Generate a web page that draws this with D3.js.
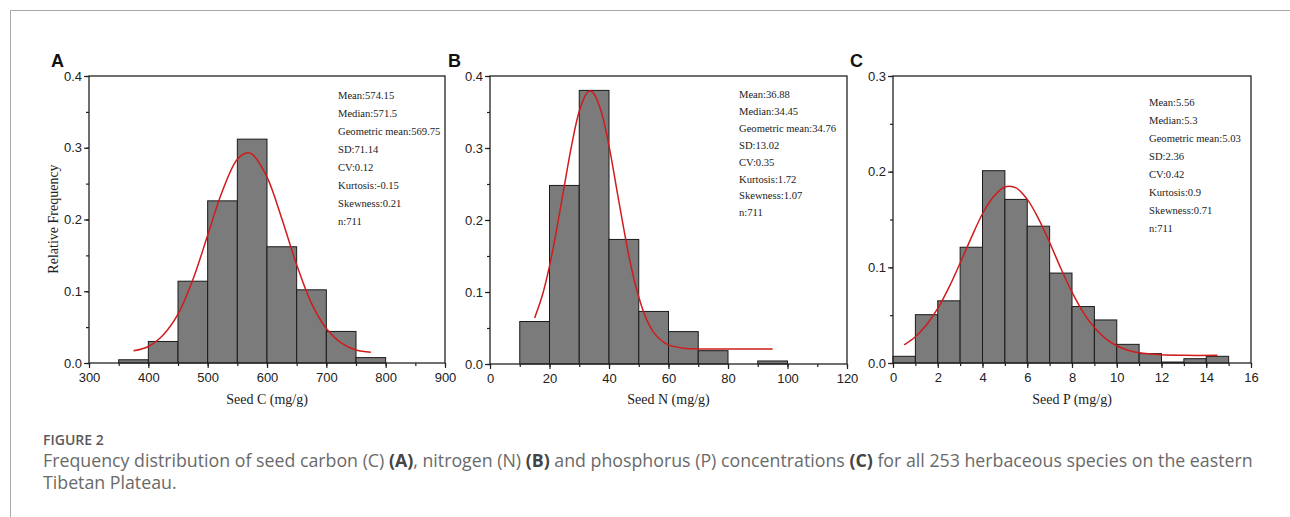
<!DOCTYPE html>
<html>
<head>
<meta charset="utf-8">
<script src="https://cdn.jsdelivr.net/npm/d3@7"></script>
<style>
  body { margin: 0; background: #fff; }
  svg { display: block; }
</style>
</head>
<body>
<div id="chart"></div>
<script>
// ---- data ----
// histogram bins: [lower edge, upper edge, relative frequency]
const binsC = [[350,400,0.0045],[400,450,0.030],[450,500,0.114],[500,550,0.226],[550,600,0.312],
               [600,650,0.162],[650,700,0.102],[700,750,0.044],[750,800,0.0075]];
const binsN = [[10,20,0.059],[20,30,0.248],[30,40,0.380],[40,50,0.173],[50,60,0.073],
               [60,70,0.045],[70,80,0.0185],[90,100,0.0042]];
const binsP = [[0,1,0.007],[1,2,0.0505],[2,3,0.065],[3,4,0.121],[4,5,0.201],[5,6,0.171],
               [6,7,0.143],[7,8,0.094],[8,9,0.059],[9,10,0.045],[10,11,0.0195],[11,12,0.0098],
               [12,13,0.001],[13,14,0.0045],[14,15,0.007]];

// fitted curves
const fitC = [[375,0.017],[400,0.023],[425,0.039],[450,0.068],[475,0.116],[500,0.178],[525,0.240],
              [550,0.284],[567,0.293],[575,0.291],[600,0.259],[625,0.201],[650,0.137],[675,0.083],
              [700,0.048],[725,0.028],[750,0.018],[775,0.015]];
const fitN = [[15,0.064],[17.5,0.094],[20,0.136],[22.5,0.189],[25,0.248],[27.5,0.305],[30,0.351],
              [32.5,0.376],[33.7,0.379],[35,0.375],[37.5,0.349],[40,0.303],[42.5,0.245],[45,0.187],
              [47.5,0.134],[50,0.093],[52.5,0.063],[55,0.044],[57.5,0.033],[60,0.0265],[65,0.022],
              [70,0.021],[80,0.021],[95,0.021]];
const fitP = [[0.5,0.019],[1,0.0275],[1.5,0.040],[2,0.057],[2.5,0.079],[3,0.1045],[3.5,0.131],
              [4,0.156],[4.5,0.174],[5,0.184],[5.5,0.183],[6,0.171],[6.5,0.151],[7,0.126],
              [7.5,0.099],[8,0.074],[8.5,0.053],[9,0.037],[9.5,0.0255],[10,0.018],[10.5,0.0133],
              [11,0.0106],[12,0.0085],[13,0.008],[14.5,0.008]];

const statsC = ["Mean:574.15","Median:571.5","Geometric mean:569.75","SD:71.14","CV:0.12","Kurtosis:-0.15","Skewness:0.21","n:711"];
const statsN = ["Mean:36.88","Median:34.45","Geometric mean:34.76","SD:13.02","CV:0.35","Kurtosis:1.72","Skewness:1.07","n:711"];
const statsP = ["Mean:5.56","Median:5.3","Geometric mean:5.03","SD:2.36","CV:0.42","Kurtosis:0.9","Skewness:0.71","n:711"];

const panelLetters = ["A","B","C"];
const xTitles = ["Seed C (mg/g)","Seed N (mg/g)","Seed P (mg/g)"];

// ---- layout ----
const W = 1290, H = 517;
const panels = [
  {bins: binsC, fit: fitC, stats: statsC, xDom: [300,900], xMajor: 100, xMinor: 50, yMax: 0.4,
   box: {l: 89, r: 445, t: 76, b: 363}, statX: 338, statY: 99, statDy: 18, letterX: 51},
  {bins: binsN, fit: fitN, stats: statsN, xDom: [0,120], xMajor: 20, xMinor: 10, yMax: 0.4,
   box: {l: 490, r: 847, t: 76, b: 364}, statX: 739, statY: 98, statDy: 16.9, letterX: 448},
  {bins: binsP, fit: fitP, stats: statsP, xDom: [0,16], xMajor: 2, xMinor: 1, yMax: 0.3,
   box: {l: 893, r: 1251, t: 76, b: 363}, statX: 1149, statY: 106, statDy: 18, letterX: 850}
];

const svg = d3.select("#chart").append("svg")
  .attr("width", W).attr("height", H);

// page frame (top + left rule)
svg.append("path")
  .attr("d", `M10.5,${H} V10.5 H${W}`)
  .attr("fill", "none").attr("stroke", "#a8a8a8").attr("stroke-width", 1);

panels.forEach((p, i) => {
  const b = p.box;
  const x = d3.scaleLinear().domain(p.xDom).range([b.l, b.r]);
  const y = d3.scaleLinear().domain([0, p.yMax]).range([b.b, b.t]);
  const g = svg.append("g");

  // minor ticks
  const xMinorVals = d3.range(p.xDom[0], p.xDom[1] + 1e-9, p.xMinor);
  const yMinorVals = d3.range(0, p.yMax + 1e-9, 0.05);
  g.append("g").attr("transform", `translate(0,${b.b})`)
    .call(d3.axisBottom(x).tickValues(xMinorVals).tickSize(3).tickFormat(""))
    .call(s => s.select(".domain").remove());
  g.append("g").attr("transform", `translate(${b.l},0)`)
    .call(d3.axisLeft(y).tickValues(yMinorVals).tickSize(3).tickFormat(""))
    .call(s => s.select(".domain").remove());

  // major ticks
  const xa = g.append("g").attr("transform", `translate(0,${b.b})`)
    .call(d3.axisBottom(x).tickValues(d3.range(p.xDom[0], p.xDom[1] + 1e-9, p.xMajor))
      .tickSize(5).tickPadding(5).tickFormat(d3.format("d")));
  const ya = g.append("g").attr("transform", `translate(${b.l},0)`)
    .call(d3.axisLeft(y).ticks(p.yMax * 10).tickSize(5).tickPadding(2).tickFormat(d3.format(".1f")));
  [xa, ya].forEach(a => {
    a.select(".domain").remove();
    a.selectAll("text").attr("font-family", "Liberation Sans, Arial, sans-serif")
      .attr("font-size", 13).attr("fill", "#222");
  });
  g.selectAll(".tick line").attr("stroke", "#222").attr("stroke-width", 1.2);

  // bars
  g.append("g").selectAll("rect").data(p.bins).join("rect")
    .attr("x", d => x(d[0]))
    .attr("y", d => y(d[2]))
    .attr("width", d => x(d[1]) - x(d[0]))
    .attr("height", d => y(0) - y(d[2]))
    .attr("fill", "#7b7b7b")
    .attr("stroke", "#1a1a1a")
    .attr("stroke-width", 1);

  // fitted curve
  g.append("path")
    .datum(p.fit)
    .attr("d", d3.line().x(d => x(d[0])).y(d => y(d[1])).curve(d3.curveCatmullRom))
    .attr("fill", "none")
    .attr("stroke", "#d01c1c")
    .attr("stroke-width", 1.5);

  // frame
  g.append("rect")
    .attr("x", b.l).attr("y", b.t)
    .attr("width", b.r - b.l).attr("height", b.b - b.t)
    .attr("fill", "none").attr("stroke", "#222").attr("stroke-width", 1.3);

  // statistics block
  g.append("g").selectAll("text").data(p.stats).join("text")
    .attr("x", p.statX)
    .attr("y", (d, k) => p.statY + k * p.statDy)
    .attr("font-family", "Liberation Serif, Times New Roman, serif")
    .attr("font-size", 10.6)
    .attr("fill", "#222")
    .text(d => d);

  // panel letter
  g.append("text")
    .attr("x", p.letterX)
    .attr("y", 67)
    .attr("font-family", "Liberation Sans, Arial, sans-serif")
    .attr("font-weight", "bold")
    .attr("font-size", 18)
    .attr("fill", "#111")
    .text(panelLetters[i]);

  // x title
  g.append("text")
    .attr("x", (b.l + b.r) / 2)
    .attr("y", 404)
    .attr("text-anchor", "middle")
    .attr("font-family", "Liberation Serif, Times New Roman, serif")
    .attr("font-size", 14)
    .attr("fill", "#222")
    .text(xTitles[i]);
});

// y title (panel A only)
svg.append("text")
  .attr("transform", `translate(58,219) rotate(-90)`)
  .attr("text-anchor", "middle")
  .attr("font-family", "Liberation Serif, Times New Roman, serif")
  .attr("font-size", 14)
  .attr("fill", "#222")
  .text("Relative Frequency");

// caption
svg.append("text")
  .attr("x", 43).attr("y", 445)
  .attr("font-family", "Open Sans, sans-serif")
  .attr("font-weight", 600)
  .attr("font-size", 14)
  .attr("fill", "#5a5a5a")
  .text("FIGURE 2");

const capParts = [
  ["Frequency distribution of seed carbon (C) ", false], ["(A)", true],
  [", nitrogen (N) ", false], ["(B)", true],
  [" and phosphorus (P) concentrations ", false], ["(C)", true],
  [" for all 253 herbaceous species on the eastern", false]
];
const cap1 = svg.append("text")
  .attr("x", 43).attr("y", 467)
  .attr("font-family", "Open Sans, sans-serif")
  .attr("font-size", 17)
  .attr("fill", "#6a6a6a");
cap1.selectAll("tspan").data(capParts).join("tspan")
  .attr("font-weight", d => d[1] ? 700 : null)
  .attr("fill", d => d[1] ? "#444" : null)
  .text(d => d[0]);
const cap2 = svg.append("text")
  .attr("x", 43).attr("y", 489)
  .attr("font-family", "Open Sans, sans-serif")
  .attr("font-size", 17)
  .attr("fill", "#6a6a6a")
  .text("Tibetan Plateau.");

// fit caption line to the reference width
const w1 = cap1.node().getComputedTextLength();
const fs = 17 * 1211 / w1;
cap1.attr("font-size", fs);
cap2.attr("font-size", fs);
</script>
</body>
</html>
